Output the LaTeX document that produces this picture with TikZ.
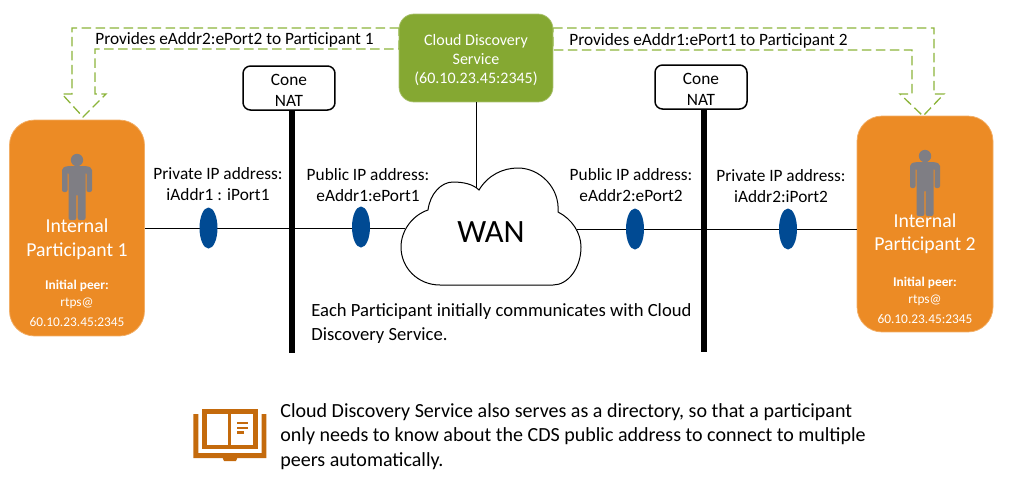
\documentclass[tikz,border=0pt]{standalone}
\usepackage{fontspec}
\setmainfont{Carlito}
\usepackage{xcolor}
\usepackage{tikz}
\usetikzlibrary{shapes,arrows,positioning}
\tikzset{>=latex}
\definecolor{partorange}{HTML}{EC8B25}
\definecolor{cdsgreen}{HTML}{85A832}
\definecolor{dashgreen}{HTML}{8CB43A}
\definecolor{ovalblue}{HTML}{004A93}
\definecolor{persongray}{HTML}{7F7E84}
\definecolor{bookbrown}{HTML}{C46A0C}
\tikzset{
    partbox/.style={draw=partorange!70, fill=partorange, line width=0.15mm, rounded corners=0.5cm},
    cdsbox/.style={draw=cdsgreen!70, fill=cdsgreen, line width=0.15mm, rounded corners=0.3cm},
    natbox/.style={draw, fill=white, line width=0.3mm, rounded corners=0.15cm},
    natbar/.style={line width=1.15mm},
    addrline/.style={line width=0.2mm},
    provides/.style={draw=dashgreen, line width=0.26mm, dash pattern=on 1.9mm off 0.9mm},
    portoval/.style={ellipse, fill=ovalblue, minimum width=0.36cm, minimum height=0.82cm, inner sep=0pt},
    lbl/.style={inner sep=0pt, align=center, font=\fontsize{9.85}{12}\selectfont},
    partlbl/.style={inner sep=0pt, white, font=\fontsize{11.25}{13}\selectfont},
    peerlbl/.style={inner sep=0pt, white, font=\fontsize{7.6}{9}\selectfont},
    person/.pic={
        \fill[persongray] (0,-4) circle (6.2);
        \fill[persongray, rounded corners=0.04cm] (-15,10) -- (-15,4) -- (-10,2) -- (10,2) -- (15,4) -- (15,28) -- (9.5,28) -- (9.5,8) -- (8.5,8) -- (8.5,56) -- (0.7,56) -- (0.7,30) -- (-0.7,30) -- (-0.7,56) -- (-8.5,56) -- (-8.5,8) -- (-9.5,8) -- (-9.5,28) -- (-15,28) -- cycle;
    },
}

\begin{document}
\begin{tikzpicture}[x=0.02cm,y=-0.02cm]
    \useasboundingbox (0,0) rectangle (1020,498);

    % provides arrows, their ends run behind the cds box
    \draw[provides] (399,28) -- (72,28) -- (72,94) -- (62,94) -- (83,117) -- (106,94) -- (95,94) -- (95,49) -- (399,49) -- cycle;
    \draw[provides] (553,28) -- (934,28) -- (934,94) -- (944,94) -- (923,116) -- (900,94) -- (912,94) -- (912,50) -- (553,50) -- cycle;

    % participants
    \node[partbox, minimum width=2.7cm, minimum height=4.32cm] (part1) at (77,228) {};
    \node[partbox, minimum width=2.72cm, minimum height=4.32cm] (part2) at (925,224) {};
    \pic at (77,164) {person};
    \pic at (925,160) {person};
    \node[partlbl] (part1a) at (77,226) {Internal};
    \node[partlbl] (part1b) at (77,251) {Participant 1};
    \node[peerlbl] (peer1a) at (77,286) {\textbf{Initial peer:}};
    \node[peerlbl] (peer1b) at (77,303) {rtps@};
    \node[peerlbl] (peer1c) at (77,322) {60.10.23.45:2345};
    \node[partlbl] (part2a) at (925,221) {Internal};
    \node[partlbl] (part2b) at (925,245) {Participant 2};
    \node[peerlbl] (peer2a) at (925,283) {\textbf{Initial peer:}};
    \node[peerlbl] (peer2b) at (925,300) {rtps@};
    \node[peerlbl] (peer2c) at (925,319) {60.10.23.45:2345};

    % wan cloud
    \coordinate (wannorth) at (476,188);
    \coordinate (wanwest) at (405,228);
    \coordinate (waneast) at (577,229);
    \draw[addrline] (part1.east |- wanwest) -- (wanwest);
    \draw[addrline] (waneast) -- (part2.west |- waneast);
    \draw[line width=0.2mm, fill=white] (479,190)
        .. controls (488,175) and (503,168) .. (518,168)
        .. controls (540,168) and (560,188) .. (558,212)
        .. controls (572,219) and (581,233) .. (581,247)
        .. controls (581,268) and (568,285) .. (553,285)
        -- (440,285)
        .. controls (418,285) and (401,268) .. (401,247)
        .. controls (401,230) and (413,215) .. (428,210)
        .. controls (430,194) and (441,182) .. (453,182)
        .. controls (463,182) and (473,184) .. (479,190) -- cycle;
    \node[inner sep=0pt, font=\fontsize{18.5}{22}\selectfont] (wan) at (491,232) {WAN};

    % cloud discovery service
    \node[cdsbox, minimum width=3.08cm, minimum height=1.76cm] (cds) at (476,58) {};
    \draw[addrline] (cds.south) -- (wannorth);
    \node[lbl, text=white, font=\fontsize{9.1}{10.8}\selectfont] (cdstext) at (476,60) {Cloud Discovery\\Service\\(60.10.23.45:2345)};

    % cone nat
    \node[natbox, minimum width=1.84cm, minimum height=0.88cm] (nat1) at (289,88) {};
    \node[natbox, minimum width=1.84cm, minimum height=0.88cm] (nat2) at (701,87) {};
    \node[lbl] (nat1text) at (289,90) {Cone\\NAT};
    \node[lbl] (nat2text) at (701,89) {Cone\\NAT};
    \coordinate (bar1end) at (292,353);
    \coordinate (bar2end) at (704,352);
    \draw[natbar] (nat1.south -| bar1end) -- (bar1end);
    \draw[natbar] (nat2.south -| bar2end) -- (bar2end);

    % ports
    \node[portoval] (oval1) at (208.5,228) {};
    \node[portoval] (oval2) at (361,227) {};
    \node[portoval] (oval3) at (635,229) {};
    \node[portoval] (oval4) at (788,229) {};

    % address labels
    \node[lbl] (addr1) at (218,184) {Private IP address:\\iAddr1 : iPort1};
    \node[lbl] (addr2) at (368,185) {Public IP address:\\eAddr1:ePort1};
    \node[lbl] (addr3) at (631,185) {Public IP address:\\eAddr2:ePort2};
    \node[lbl] (addr4) at (781,186) {Private IP address:\\iAddr2:iPort2};
    \node[lbl, anchor=west] (prov1) at (95,40) {Provides eAddr2:ePort2 to Participant 1};
    \node[lbl, anchor=west] (prov2) at (569,41) {Provides eAddr1:ePort1 to Participant 2};

    % notes
    \node[lbl, anchor=west, align=left, font=\fontsize{10.6}{13.2}\selectfont] (note1) at (311,323.5) {Each Participant initially communicates with Cloud\\Discovery Service.};
    \node[lbl, anchor=west, align=left, font=\fontsize{11.4}{13.9}\selectfont] (note2) at (280,436.5) {Cloud Discovery Service also serves as a directory, so that a participant\\only needs to know about the CDS public address to connect to multiple\\peers automatically.};

    % book
    \fill[bookbrown] (201.7,409) rectangle (258.3,449);
    \fill[white] (206.7,414) rectangle (228.3,445);
    \fill[white] (231.3,414) rectangle (253.3,445);
    \fill[bookbrown] (236.7,422.3) rectangle (248.3,424.3);
    \fill[bookbrown] (236.7,427) rectangle (248.3,429);
    \fill[bookbrown] (236.7,431.3) rectangle (244,433.7);
    \fill[bookbrown] (193.3,414) -- (198.3,414) -- (198.3,453) -- (261.7,453) -- (261.7,414) -- (266.3,414) -- (266.3,458) -- (237.3,458) -- (236,461) -- (224,461) -- (222.7,458) -- (193.3,458) -- cycle;
\end{tikzpicture}
\end{document}
